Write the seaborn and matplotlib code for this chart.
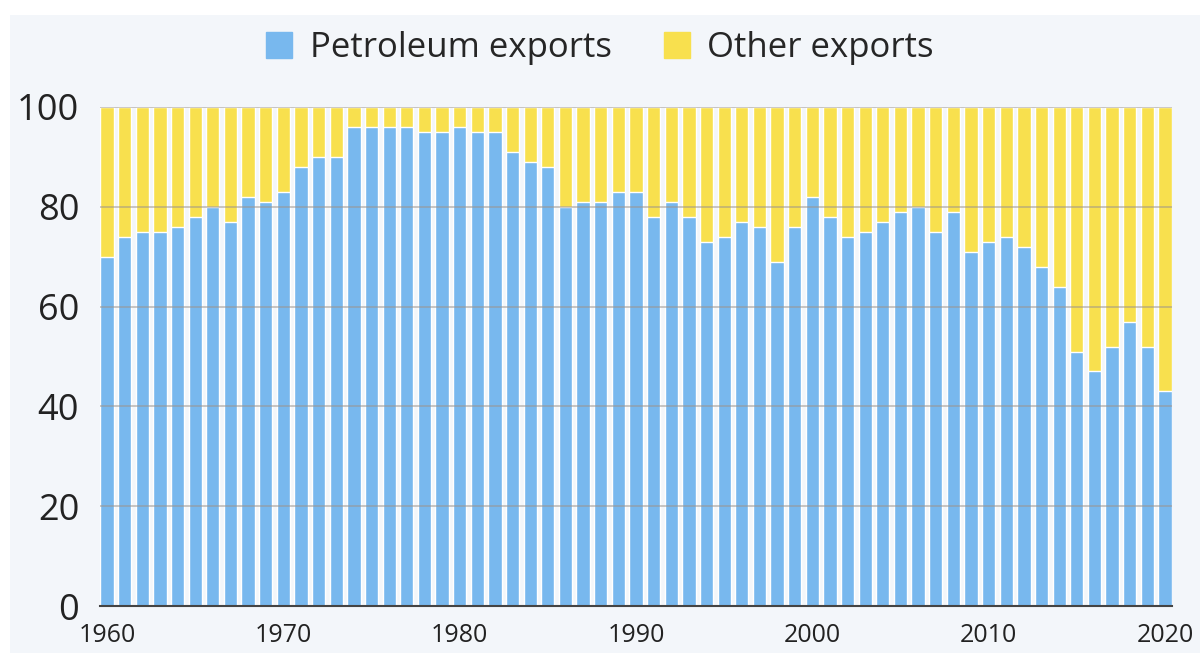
import matplotlib
matplotlib.use("Agg")
import matplotlib.pyplot as plt
import matplotlib.patches as mpatches
import pandas as pd
import seaborn as sns

# Share of petroleum in total exports (%)
years = list(range(1960, 2021))
petroleum = [70, 74, 75, 75, 76, 78, 80, 77, 82, 81,
             83, 88, 90, 90, 96, 96, 96, 96, 95, 95,
             96, 95, 95, 91, 89, 88, 80, 81, 81, 83,
             83, 78, 81, 78, 73, 74, 77, 76, 69, 76,
             82, 78, 74, 75, 77, 79, 80, 75, 79, 71,
             73, 74, 72, 68, 64, 51, 47, 52, 57, 52,
             43]
other = [100 - p for p in petroleum]
xtick_years = [1960, 1970, 1980, 1990, 2000, 2010, 2020]

blue = "#78b8ee"
yellow = "#f8e04e"
bg = "#f3f6fa"

df = pd.DataFrame({"Year": years, "Petroleum": petroleum, "Other": other})
df["Total"] = df["Petroleum"] + df["Other"]

sns.set_style("white")
plt.rcParams["font.family"] = ["Open Sans", "DejaVu Sans"]

fig = plt.figure(figsize=(12, 6.53), dpi=100, facecolor="white")
fig.patches.append(mpatches.Rectangle((10 / 1200, 0), 1, 1 - 15 / 653,
                                      transform=fig.transFigure,
                                      facecolor=bg, edgecolor="none", zorder=-10))
ax = fig.add_axes([100 / 1200, 1 - 606 / 653, 1072 / 1200, 499 / 653])
ax.set_facecolor(bg)

# stacked: draw the full column in yellow, petroleum share in blue on top
sns.barplot(data=df, x="Year", y="Total", color=yellow, width=0.75,
            saturation=1, ax=ax, zorder=2)
sns.barplot(data=df, x="Year", y="Petroleum", color=blue, width=0.75,
            saturation=1, ax=ax, zorder=3)

ax.set_xlim(-0.4, len(years) - 0.6)
ax.set_ylim(0, 100)
ax.set_yticks([0, 20, 40, 60, 80, 100])
ax.set_xticks([years.index(y) for y in xtick_years])
ax.set_xticklabels([str(y) for y in xtick_years])
ax.tick_params(axis="y", length=0, pad=15, labelsize=26, labelcolor="#222222")
ax.tick_params(axis="x", length=0, pad=12, labelsize=18, labelcolor="#222222")
ax.set_xlabel("")
ax.set_ylabel("")

# gridlines run across the bars
for v in [20, 40, 60, 80, 100]:
    ax.axhline(v, color="#9c948c", linewidth=1.2, alpha=0.6, zorder=4)
for s in ["top", "right", "left"]:
    ax.spines[s].set_visible(False)
ax.spines["bottom"].set_color("#444444")
ax.spines["bottom"].set_linewidth(1.5)
ax.spines["bottom"].set_zorder(5)

handles = [mpatches.Patch(color=blue, label="Petroleum exports"),
           mpatches.Patch(color=yellow, label="Other exports")]
fig.legend(handles=handles, loc="center", bbox_to_anchor=(0.5, 1 - 48 / 653),
           ncol=2, frameon=False, fontsize=25, handlelength=0.75,
           handleheight=0.75, handletextpad=0.5, columnspacing=1.5)

fig.savefig("out.png", dpi=100, facecolor=fig.get_facecolor())
